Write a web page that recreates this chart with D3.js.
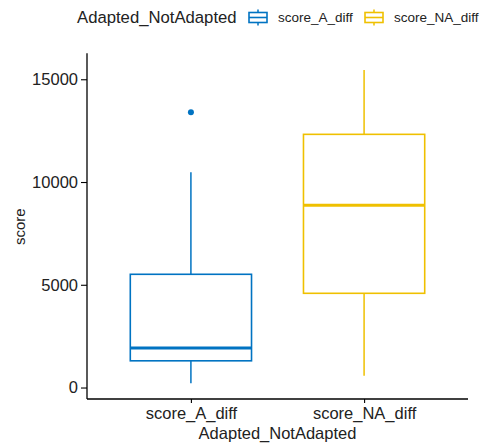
<!DOCTYPE html>
<html>
<head>
<meta charset="utf-8">
<script src="https://cdn.jsdelivr.net/npm/d3@7"></script>
<style>
  html, body { margin: 0; padding: 0; background: #fff; }
  svg { display: block; font-family: "Liberation Sans", Arial, sans-serif; }
</style>
</head>
<body>
<svg id="chart" width="480" height="445"></svg>
<script>
// ---- data ----
const categories  = ["score_A_diff", "score_NA_diff"];
const whiskerLow  = [204, 574];
const q1          = [1300, 4585];
const median      = [1920, 8867];
const q3          = [5510, 12320];
const whiskerHigh = [10470, 15450];
const outliers    = [[13400], []];
const yTicks      = [0, 5000, 10000, 15000];
const colors      = ["#0073C2", "#EFC000"];
const legendTitle = "Adapted_NotAdapted";
const xTitle      = "Adapted_NotAdapted";
const yTitle      = "score";

// ---- layout ----
const svg = d3.select("#chart");
const panel = { left: 87, right: 468, top: 54.35, bottom: 399 };

const allVals = whiskerLow.concat(whiskerHigh, outliers.flat());
const vmin = d3.min(allVals), vmax = d3.max(allVals);
const ex = (vmax - vmin) * 0.05;
const y = d3.scaleLinear().domain([vmin - ex, vmax + ex]).range([panel.bottom, panel.top]);
const x = d3.scalePoint().domain(categories).range([panel.left, panel.right]).padding(0.6);
const boxW = x.step() * 0.7;

const g = svg.append("g");

// boxes
categories.forEach((c, i) => {
  const cx = x(c), col = colors[i];
  const bg = g.append("g");
  // whiskers
  bg.append("line").attr("x1", cx).attr("x2", cx)
    .attr("y1", y(q3[i])).attr("y2", y(whiskerHigh[i]))
    .attr("stroke", col).attr("stroke-width", 1.5);
  bg.append("line").attr("x1", cx).attr("x2", cx)
    .attr("y1", y(q1[i])).attr("y2", y(whiskerLow[i]))
    .attr("stroke", col).attr("stroke-width", 1.5);
  // box
  bg.append("rect")
    .attr("x", cx - boxW / 2).attr("width", boxW)
    .attr("y", y(q3[i])).attr("height", y(q1[i]) - y(q3[i]))
    .attr("fill", "#fff").attr("stroke", col).attr("stroke-width", 1.6);
  // median
  bg.append("line")
    .attr("x1", cx - boxW / 2).attr("x2", cx + boxW / 2)
    .attr("y1", y(median[i])).attr("y2", y(median[i]))
    .attr("stroke", col).attr("stroke-width", 3);
  // outliers
  outliers[i].forEach(v => {
    bg.append("circle").attr("cx", cx).attr("cy", y(v)).attr("r", 3)
      .attr("fill", col);
  });
});

// axes
const yAxis = d3.axisLeft(y).tickValues(yTicks).tickSize(6).tickPadding(3).tickFormat(d3.format("d"));
const yg = svg.append("g").attr("transform", `translate(${panel.left},0)`).call(yAxis);
yg.select(".domain").attr("d", `M0,${panel.top - 1}V${panel.bottom}`);
const xAxis = d3.axisBottom(x).tickSize(4).tickPadding(4);
const xg = svg.append("g").attr("transform", `translate(0,${panel.bottom})`).call(xAxis);
xg.select(".domain").attr("d", `M${panel.left},0H${panel.right}`);
[yg, xg].forEach(a => {
  a.select(".domain").attr("stroke", "#000").attr("stroke-width", 1.3);
  a.selectAll(".tick line").attr("stroke", "#000").attr("stroke-width", 1.1);
  a.selectAll(".tick text").attr("fill", "#222").style("font-size", "16.5px")
    .style("font-family", "'Liberation Sans', Arial, sans-serif");
});

// axis titles
svg.append("text").attr("x", (panel.left + panel.right) / 2).attr("y", 439)
  .attr("text-anchor", "middle").style("font-size", "16.5px").attr("fill", "#222")
  .text(xTitle);
svg.append("text").attr("transform", `translate(25,${(panel.top + panel.bottom) / 2}) rotate(-90)`)
  .attr("text-anchor", "middle").style("font-size", "15px").attr("fill", "#222")
  .text(yTitle);

// legend
const leg = svg.append("g");
leg.append("text").attr("x", 77).attr("y", 23).style("font-size", "16.7px").attr("fill", "#222")
  .text(legendTitle);
const keyX = [248, 364], labX = [278, 394];
categories.forEach((c, i) => {
  const kx = keyX[i], col = colors[i];
  const k = leg.append("g");
  k.append("line").attr("x1", kx + 10).attr("x2", kx + 10).attr("y1", 9.5).attr("y2", 25.5)
    .attr("stroke", col).attr("stroke-width", 1.5);
  k.append("rect").attr("x", kx + 1).attr("y", 12.5).attr("width", 18).attr("height", 10)
    .attr("fill", "#fff").attr("stroke", col).attr("stroke-width", 1.6);
  k.append("line").attr("x1", kx + 1).attr("x2", kx + 19).attr("y1", 17.5).attr("y2", 17.5)
    .attr("stroke", col).attr("stroke-width", 1.6);
  leg.append("text").attr("x", labX[i]).attr("y", 22).style("font-size", "13.5px").attr("fill", "#222")
    .text(c);
});
</script>
</body>
</html>
